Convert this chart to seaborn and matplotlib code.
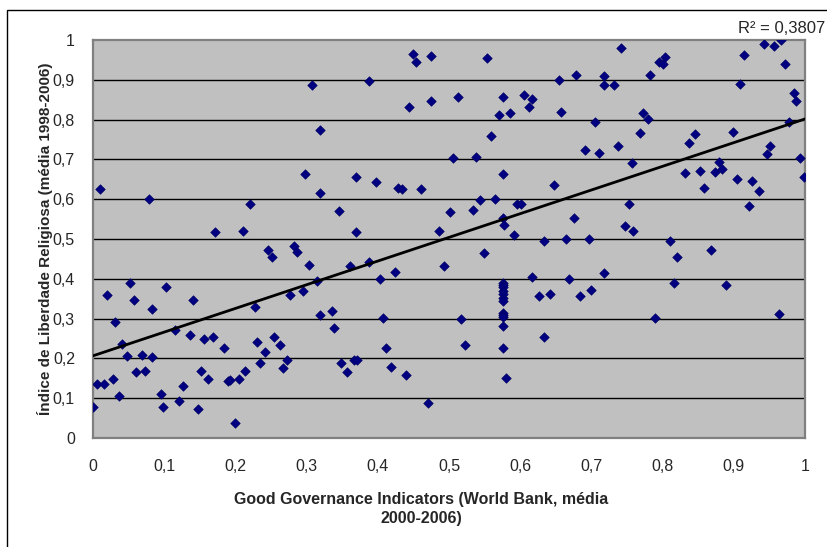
import numpy as np
import pandas as pd
import matplotlib
matplotlib.use("Agg")
import matplotlib.pyplot as plt
from matplotlib.patches import Rectangle
import seaborn as sns

# dados (governança x liberdade religiosa)
gov = [
    0.010, 0.079, 0.172, 0.210, 0.220,
    0.000, 0.006, 0.016, 0.020, 0.028, 0.031, 0.037, 0.041, 0.048, 0.052,
    0.058, 0.061, 0.069, 0.073, 0.083, 0.083, 0.095, 0.099, 0.103, 0.115,
    0.121, 0.126, 0.136, 0.141, 0.147, 0.151, 0.156, 0.162, 0.169, 0.184,
    0.189, 0.193, 0.199, 0.205, 0.214, 0.227, 0.231, 0.235, 0.241, 0.246,
    0.251, 0.254,
    0.262, 0.273, 0.267, 0.277, 0.283, 0.287, 0.295, 0.303, 0.315, 0.319,
    0.336, 0.339, 0.349, 0.357, 0.361, 0.366, 0.371, 0.370, 0.388, 0.403,
    0.408, 0.412, 0.418, 0.424, 0.439, 0.471, 0.486, 0.493,
    0.450, 0.454, 0.475, 0.308, 0.388, 0.444, 0.475, 0.512, 0.319, 0.506,
    0.298, 0.370, 0.319, 0.397, 0.428, 0.434, 0.460, 0.346, 0.501,
    0.553, 0.742, 0.576, 0.654, 0.679, 0.717, 0.717, 0.732, 0.606, 0.616,
    0.612, 0.570, 0.586, 0.658, 0.705, 0.559, 0.691, 0.711, 0.738, 0.538,
    0.576, 0.648, 0.757, 0.534, 0.544, 0.565, 0.595, 0.601, 0.576, 0.577,
    0.675, 0.753, 0.747, 0.759, 0.591, 0.633, 0.664, 0.696,
    0.549, 0.616, 0.669, 0.717,
    0.576, 0.576, 0.576, 0.576, 0.576, 0.576, 0.576, 0.576, 0.576,
    0.576, 0.576, 0.576,
    0.627, 0.642, 0.684, 0.700, 0.517, 0.523, 0.633, 0.580,
    0.942, 0.957, 0.966, 0.915, 0.972, 0.804, 0.795, 0.800, 0.783, 0.909,
    0.984, 0.987, 0.773, 0.779, 0.978, 0.768, 0.846, 0.837, 0.899, 0.951,
    0.946, 0.993, 0.999, 0.831, 0.852, 0.873, 0.879, 0.883, 0.858, 0.904,
    0.925, 0.936, 0.921, 0.810,
    0.820, 0.868, 0.816, 0.889, 0.789, 0.963,
]
rel = [
    0.625, 0.600, 0.518, 0.520, 0.588,
    0.077, 0.136, 0.136, 0.359, 0.149, 0.291, 0.105, 0.237, 0.207, 0.390,
    0.346, 0.165, 0.209, 0.168, 0.323, 0.203, 0.111, 0.077, 0.379, 0.271,
    0.094, 0.131, 0.260, 0.346, 0.074, 0.168, 0.250, 0.148, 0.254, 0.227,
    0.144, 0.146, 0.037, 0.149, 0.168, 0.329, 0.240, 0.189, 0.216, 0.472,
    0.456, 0.254,
    0.233, 0.197, 0.176, 0.359, 0.483, 0.467, 0.369, 0.435, 0.394, 0.308,
    0.319, 0.277, 0.189, 0.165, 0.431, 0.196, 0.196, 0.518, 0.441, 0.400,
    0.301, 0.227, 0.179, 0.417, 0.159, 0.087, 0.521, 0.431,
    0.966, 0.944, 0.959, 0.887, 0.897, 0.832, 0.846, 0.856, 0.775, 0.703,
    0.663, 0.656, 0.615, 0.642, 0.629, 0.625, 0.625, 0.570, 0.567,
    0.955, 0.979, 0.856, 0.900, 0.911, 0.909, 0.887, 0.887, 0.861, 0.851,
    0.832, 0.812, 0.816, 0.819, 0.795, 0.758, 0.724, 0.717, 0.734, 0.707,
    0.663, 0.635, 0.690, 0.573, 0.598, 0.601, 0.588, 0.588, 0.554, 0.536,
    0.554, 0.588, 0.533, 0.519, 0.510, 0.494, 0.500, 0.500,
    0.465, 0.404, 0.400, 0.414,
    0.389, 0.384, 0.379, 0.370, 0.362, 0.351, 0.343, 0.313, 0.308, 0.303,
    0.281, 0.227,
    0.356, 0.363, 0.356, 0.373, 0.298, 0.233, 0.254, 0.152,
    0.991, 0.986, 1.000, 0.962, 0.939, 0.958, 0.945, 0.939, 0.911, 0.890,
    0.867, 0.846, 0.817, 0.802, 0.795, 0.767, 0.764, 0.740, 0.768, 0.734,
    0.714, 0.704, 0.656, 0.666, 0.672, 0.668, 0.694, 0.676, 0.628, 0.652,
    0.645, 0.621, 0.584, 0.495,
    0.455, 0.472, 0.390, 0.384, 0.302, 0.312,
]

ticks = [0, 0.1, 0.2, 0.3, 0.4, 0.5, 0.6, 0.7, 0.8, 0.9, 1]
tick_labels = ["0", "0,1", "0,2", "0,3", "0,4", "0,5", "0,6", "0,7", "0,8", "0,9", "1"]
r2_label = "R² = 0,3807"

df = pd.DataFrame({"gov": gov, "rel": rel})

sns.set_style("white")
plt.rcParams["font.family"] = ["Liberation Sans", "DejaVu Sans"]

fig = plt.figure(figsize=(8.28, 5.47), dpi=100)
ax = fig.add_axes([93 / 828, 1 - 438 / 547, 712 / 828, 398 / 547])
ax.set_facecolor("#C0C0C0")

# linhas de grade horizontais
for t in ticks[1:-1]:
    ax.axhline(t, color="black", lw=1, zorder=0)

sns.scatterplot(data=df, x="gov", y="rel", marker="D", s=24, color="#000080",
                edgecolor="#000060", linewidth=0.4, ax=ax, zorder=3)
sns.regplot(data=df, x="gov", y="rel", scatter=False, ci=None, truncate=False,
            color="black", line_kws={"lw": 2, "zorder": 4}, ax=ax)

ax.set_xlim(0, 1)
ax.set_ylim(0, 1)
ax.set_xticks(ticks)
ax.set_xticklabels(tick_labels, fontsize=11.5)
ax.set_yticks(ticks)
ax.set_yticklabels(tick_labels, fontsize=11.5)
ax.tick_params(axis="both", direction="out", length=5, width=1, color="black", pad=8)
ax.tick_params(axis="x", pad=10)

for sp in ax.spines.values():
    sp.set_color("#808080")
    sp.set_linewidth(1.6)

ax.set_xlabel("Good Governance Indicators (World Bank, média\n2000-2006)",
              fontsize=11.5, fontweight="bold", linespacing=1.35)
ax.xaxis.set_label_coords((421 - 93) / 712, -0.135)
ax.xaxis.label.set_va("top")
ax.set_ylabel("Índice de Liberdade Religiosa (média 1998-2006)",
              fontsize=11, fontweight="bold")
ax.yaxis.set_label_coords(-(93 - 45) / 712, 0.5)
ax.yaxis.label.set_va("center")

fig.text(0.997, 1 - 33 / 547, r2_label, ha="right", va="baseline", fontsize=12)

# moldura do gráfico (só esquerda e topo visíveis)
fig.add_artist(Rectangle((7 / 828, -0.1), 2, 1 - 10 / 547 + 0.1,
                         transform=fig.transFigure, fill=False,
                         ec="black", lw=1, clip_on=False))

fig.savefig("out.png", dpi=100)
